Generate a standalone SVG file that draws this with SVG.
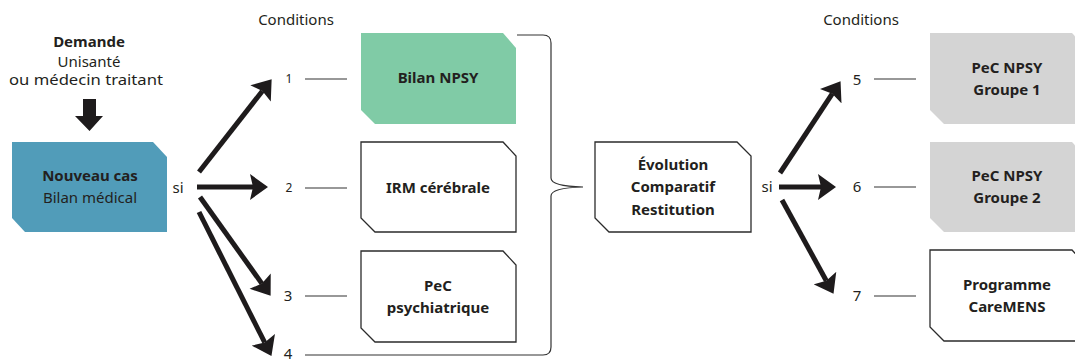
<svg xmlns="http://www.w3.org/2000/svg" width="1075" height="360" viewBox="0 0 1075 360">
<style>
text{font-family:"Noto Sans","Open Sans","DejaVu Sans",sans-serif;fill:#231f20;text-anchor:middle}
.b{font-weight:bold;font-size:15px}
.r{font-size:15px}
.s{font-size:12px}
.c{font-size:15px}
.box{stroke:#2b2b2b;stroke-width:1.3;fill:#fff}
.thin{stroke:#333;stroke-width:1.2;fill:none}
.arr{stroke:#1e1b1c;stroke-width:5;fill:none}
</style>
<defs>
<marker id="ah" markerUnits="userSpaceOnUse" markerWidth="19" markerHeight="26" viewBox="0 0 18 26" refX="3" refY="13" orient="auto">
<path d="M0,0 L18,13 L0,26 L3,13 Z" fill="#1e1b1c"/>
</marker>
</defs>
<rect width="1075" height="360" fill="#fff"/>

<g id="demande">
<text class="b" x="89" y="47">Demande</text>
<text class="r" x="89" y="67">Unisanté</text>
<text class="r" x="86" y="85" textLength="154" lengthAdjust="spacingAndGlyphs">ou médecin traitant</text>
<path d="M83,99 H96 V116 H103 L89.5,131 L75,116 H83 Z" fill="#1e1b1c"/>
</g>

<g id="nouveau">
<path d="M12,142 H153 L167,157 V232 H25 L12,218 Z" fill="#519cb9"/>
<text class="b" x="90" y="181">Nouveau cas</text>
<text class="r" x="90" y="203">Bilan médical</text>
</g>

<g id="labels">
<text class="c" x="296" y="25">Conditions</text>
<text class="c" x="861" y="25">Conditions</text>
<text class="r" x="178" y="193">si</text>
<text class="r" x="767" y="192">si</text>
<text class="s" x="289" y="83">1</text>
<text class="s" x="289" y="192">2</text>
<text class="r" x="288" y="301">3</text>
<text class="r" x="288" y="359">4</text>
<text class="r" x="857" y="85">5</text>
<text class="r" x="857" y="192">6</text>
<text class="r" x="857" y="301">7</text>
</g>

<g id="bilan-npsy">
<path d="M361,33 H503 L516,48 V124 H375 L361,110 Z" fill="#80cba6"/>
<text class="b" x="438" y="83">Bilan NPSY</text>
</g>
<g id="irm">
<path class="box" d="M361,142 H503 L516,156 V232 H375 L361,218 Z"/>
<text class="b" x="438" y="193">IRM cérébrale</text>
</g>
<g id="pec-psy">
<path class="box" d="M361,251 H503 L516,265 V342 H375 L361,328 Z"/>
<text class="b" x="438" y="291">PeC</text>
<text class="b" x="438" y="313">psychiatrique</text>
</g>
<g id="evolution">
<path class="box" d="M595,142 H737 L751,156 V232 H609 L595,218 Z"/>
<text class="b" x="673" y="170">Évolution</text>
<text class="b" x="673" y="192">Comparatif</text>
<text class="b" x="673" y="215">Restitution</text>
</g>
<g id="groupe1">
<path d="M930,33 H1072 L1085,47 V124 H944 L930,110 Z" fill="#d4d4d4"/>
<text class="b" x="1007" y="73">PeC NPSY</text>
<text class="b" x="1007" y="95">Groupe 1</text>
</g>
<g id="groupe2">
<path d="M930,142 H1072 L1085,156 V232 H944 L930,218 Z" fill="#d4d4d4"/>
<text class="b" x="1007" y="181">PeC NPSY</text>
<text class="b" x="1007" y="203">Groupe 2</text>
</g>
<g id="caremens">
<path class="box" d="M930,250 H1072 L1085,264 V341 H944 L930,327 Z"/>
<text class="b" x="1007" y="290">Programme</text>
<text class="b" x="1007" y="312">CareMENS</text>
</g>

<g id="connectors">
<line class="arr" x1="199" y1="172" x2="262.4" y2="91" marker-end="url(#ah)"/>
<line class="arr" x1="197" y1="187" x2="253" y2="187" marker-end="url(#ah)"/>
<line class="arr" x1="200" y1="197" x2="261.9" y2="283.6" marker-end="url(#ah)"/>
<line class="arr" x1="199" y1="212" x2="264.7" y2="342.5" marker-end="url(#ah)"/>
<line class="arr" x1="780" y1="173" x2="832.3" y2="93.7" marker-end="url(#ah)"/>
<line class="arr" x1="779" y1="187" x2="821" y2="187" marker-end="url(#ah)"/>
<line class="arr" x1="782" y1="200" x2="826.3" y2="280.7" marker-end="url(#ah)"/>
<line class="thin" x1="305" y1="79" x2="347" y2="79"/>
<line class="thin" x1="305" y1="188" x2="347" y2="188"/>
<line class="thin" x1="305" y1="296" x2="347" y2="296"/>
<line class="thin" x1="874" y1="79" x2="916" y2="79"/>
<line class="thin" x1="874" y1="187" x2="916" y2="187"/>
<line class="thin" x1="874" y1="296" x2="916" y2="296"/>
<path class="thin" d="M517,35 H543 Q551,35 551,43 V178 C551,184 562,186.5 583,187 C562,187.5 551,190 551,196 V347 Q551,355 543,355 H305"/>
</g>
</svg>
